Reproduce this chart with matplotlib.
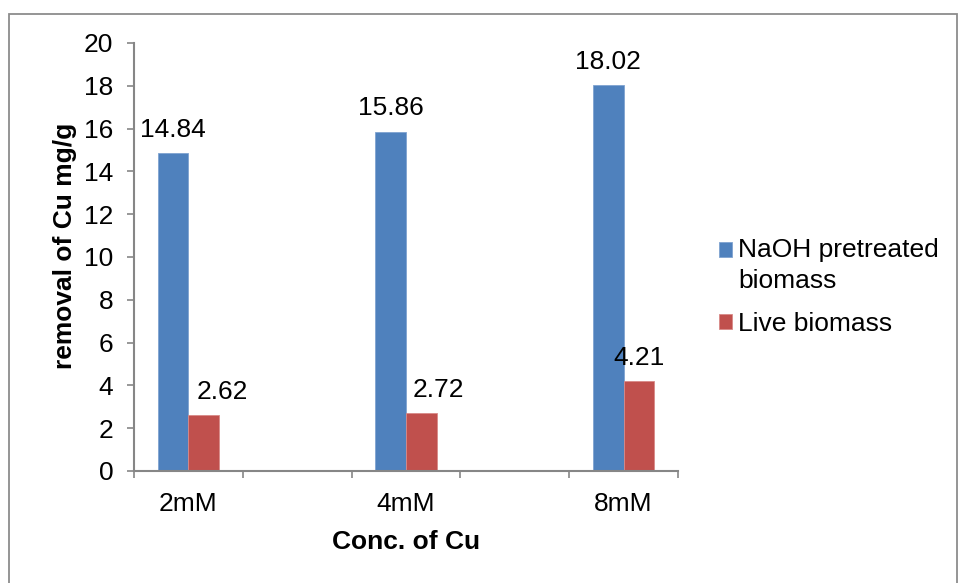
import numpy as np
import matplotlib
matplotlib.use("Agg")
import matplotlib.pyplot as plt
from matplotlib.patches import Rectangle
from matplotlib.legend_handler import HandlerPatch

plt.rcParams['font.family'] = ['Liberation Sans', 'DejaVu Sans']

categories = ["2mM", "4mM", "8mM"]
naoh = [14.84, 15.86, 18.02]
live = [2.62, 2.72, 4.21]
series_names = ["NaOH pretreated\nbiomass", "Live biomass"]

blue = "#4F81BD"
red = "#C0504D"
grey = "#868686"
fs = 19

fig = plt.figure(figsize=(9.58, 5.83), dpi=100)
ax = fig.add_axes([134 / 958, 1 - 471 / 583, 544 / 958, 428 / 583])

# outer chart border (Excel chart area)
fig.patches.append(Rectangle((9 / 958, -0.05), 948 / 958, 1.05 - 14 / 583,
                             transform=fig.transFigure, fill=False,
                             edgecolor="#8c8c8c", linewidth=1.3))

x = np.arange(len(categories))
w = 0.142
b1 = ax.bar(x - w / 2, naoh, w, color=blue, edgecolor="#7fa3d0", linewidth=0.6)
b2 = ax.bar(x + w / 2, live, w, color=red, edgecolor="#d88a88", linewidth=0.6)

# Excel nudged some of the small labels sideways
red_shift = [13, 12, 0]
for i, v in enumerate(naoh):
    ax.annotate(f"{v:.2f}", (x[i] - w / 2, v), xytext=(0, 8),
                textcoords="offset points", ha="center", va="bottom", fontsize=fs)
for i, v in enumerate(live):
    ax.annotate(f"{v:.2f}", (x[i] + w / 2, v), xytext=(red_shift[i], 8),
                textcoords="offset points", ha="center", va="bottom", fontsize=fs)

ax.set_xlim(-0.25, 2.25)
ax.set_ylim(0, 20)
ax.set_yticks(np.arange(0, 21, 2))
ax.set_xticks(np.arange(-0.25, 2.26, 0.5))
ax.set_xticklabels([])
ax.set_xticks(x, minor=True)
ax.set_xticklabels(categories, minor=True)

for s in ["top", "right"]:
    ax.spines[s].set_visible(False)
for s in ["left", "bottom"]:
    ax.spines[s].set_color(grey)
    ax.spines[s].set_linewidth(1.5)

ax.tick_params(axis="y", which="major", direction="out", length=5, width=1.2,
               color=grey, labelsize=fs, pad=10)
ax.tick_params(axis="x", which="major", direction="out", length=5, width=1.2, color=grey)
ax.tick_params(axis="x", which="minor", length=0, labelsize=fs, pad=15)

ax.set_ylabel("removal of Cu mg/g", fontsize=fs, fontweight="bold", va="center")
ax.yaxis.set_label_coords(-0.126, 0.526)
ax.set_xlabel("Conc. of Cu", fontsize=fs, fontweight="bold", va="center")
ax.xaxis.set_label_coords(0.5, -0.166)


def top_square(legend, orig_handle, xdescent, ydescent, width, height, fontsize):
    # put the square next to the first line of a two line label
    return Rectangle((-xdescent, -ydescent + 0.6 * fontsize), width, height)


h1 = b1.patches[0]
h2 = b2.patches[0]
leg = fig.legend([h1, h2], series_names, loc="upper left",
                 bbox_to_anchor=(719 / 958, 1 - 238 / 583), frameon=False,
                 fontsize=fs, handlelength=0.5, handleheight=0.5,
                 handletextpad=0.22, labelspacing=0.72, borderpad=0,
                 borderaxespad=0,
                 handler_map={h1: HandlerPatch(patch_func=top_square)})
for t in leg.get_texts():
    t.set_linespacing(1.35)

fig.savefig("out.png", dpi=100)
